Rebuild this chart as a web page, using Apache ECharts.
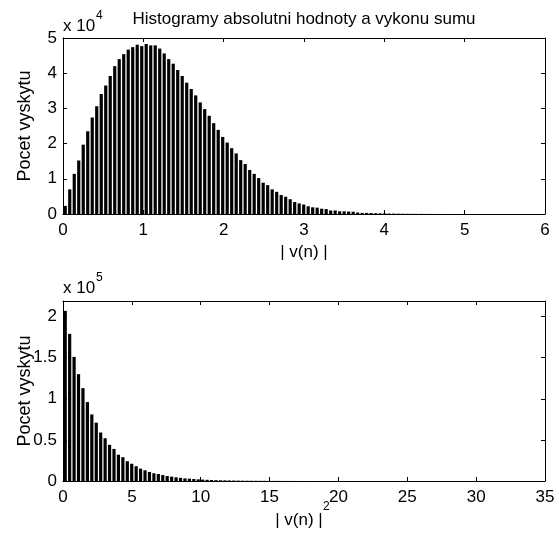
<!DOCTYPE html>
<html><head><meta charset="utf-8">
<script src="https://cdn.jsdelivr.net/npm/echarts@6/dist/echarts.min.js"></script>
<style>html,body{margin:0;padding:0;background:#fff}#c{width:559px;height:541px}</style>
</head><body><div id="c"></div>
<script>
// ---- data ----
const titleText = 'Histogramy absolutni hodnoty a vykonu sumu';
const yLabelText = 'Pocet vyskytu';
const absXLabel = '| v(n) |';
const powXLabel = '| v(n) |';
const absBinWidth = 0.056;
const absCounts = [2300,7000,11400,15200,19700,23500,27400,30600,34100,36500,
  39200,42000,44000,45400,46700,47400,48100,47700,48300,47900,
  47900,47000,45600,44000,42700,40900,39200,37300,35500,33700,
  31700,29800,27900,25800,23900,21900,20300,18700,17200,15300,
  14200,12500,11400,10200,8900,8200,7000,6300,5400,4900,
  4200,3400,3000,2700,2200,1900,1800,1500,1400,1000,
  1000,770,770,700,650,400,330,300,260,220,
  190,150,130,110,90,80,60,50,40,35,
  30,22,18,15,12,9,7,6,5,4,
  3,2,2,1,0,1,1,0,1,1];
const powBinWidth = 0.322;
const powCounts = [207000,179000,151000,130000,113000,96000,81000,71000,59000,52000,
  44000,39000,32000,29000,24000,21000,18000,15000,13000,11000,
  9400,8500,7200,6100,5300,4500,3800,3200,2800,2400,
  2000,1700,1450,1250,1050,900,760,650,550,470,
  400,340,290,250,210,180,150,130,110,95,
  80,68,58,49,42,36,30,26,22,19,
  16,14,12,10,8,7,6,5,4,4,
  3,3,2,2,2,1,1,1,1,0,
  1,0,1,0,0,1,0,0,1,0,
  0,0,1,0,0,0,1,0,0,1];
const absXRange = [0, 6, 1];
const absYRange = [0, 50000, 10000];
const powXRange = [0, 35, 5];
const powYRange = [0, 219000, 50000];
const absYScale = 1e4, powYScale = 1e5;
const absExp = '4', powExp = '5';

// ---- chart ----
const FONT = 'Liberation Sans, Arial, Helvetica, sans-serif';
const FS = 17;
const chart = echarts.init(document.getElementById('c'), null, {renderer: 'canvas'});
const absData = absCounts.map((c, i) => [(i + 0.5) * absBinWidth, c]);
const powData = powCounts.map((c, i) => [(i + 0.5) * powBinWidth, c]);

function xAx(grid, r, pos, showLabel) {
  return {type: 'value', gridIndex: grid, position: pos, min: r[0], max: r[1], interval: r[2],
    axisLine: {show: true, onZero: false, lineStyle: {color: '#000', width: 1}},
    axisTick: {show: true, inside: true, length: 4, lineStyle: {color: '#000'}},
    axisLabel: {show: showLabel, color: '#000', fontFamily: FONT, fontSize: FS, margin: 8},
    splitLine: {show: false}};
}
function yAx(grid, r, pos, showLabel, scale) {
  return {type: 'value', gridIndex: grid, position: pos, min: r[0], max: r[1], interval: r[2],
    axisLine: {show: true, onZero: false, lineStyle: {color: '#000', width: 1}},
    axisTick: {show: true, inside: true, length: 4, lineStyle: {color: '#000'}},
    axisLabel: {show: showLabel, color: '#000', fontFamily: FONT, fontSize: FS, margin: 6,
      showMaxLabel: r[1] % r[2] === 0,
      formatter: v => String(+(v / scale).toFixed(2))},
    splitLine: {show: false}};
}
function txt(text, x, y, size, align, rot) {
  return {type: 'text', x: x, y: y, rotation: rot || 0, silent: true,
    style: {text: text, fill: '#000', font: size + 'px ' + FONT, textAlign: align || 'center', textVerticalAlign: 'middle'}};
}

chart.setOption({
  animation: false,
  backgroundColor: '#fff',
  grid: [
    {left: 63, top: 38, width: 482, height: 176},
    {left: 63, top: 301, width: 482, height: 180}
  ],
  xAxis: [
    xAx(0, absXRange, 'bottom', true), xAx(0, absXRange, 'top', false),
    xAx(1, powXRange, 'bottom', true), xAx(1, powXRange, 'top', false)
  ],
  yAxis: [
    yAx(0, absYRange, 'left', true, absYScale), yAx(0, absYRange, 'right', false, absYScale),
    yAx(1, powYRange, 'left', true, powYScale), yAx(1, powYRange, 'right', false, powYScale)
  ],
  series: [
    {type: 'bar', xAxisIndex: 0, yAxisIndex: 0, data: absData, barWidth: 3.2,
      itemStyle: {color: '#000'}, silent: true},
    {type: 'bar', xAxisIndex: 2, yAxisIndex: 2, data: powData, barWidth: 3.2,
      itemStyle: {color: '#000'}, silent: true}
  ],
  graphic: [
    txt(titleText, 304, 19, FS),
    txt('x 10', 63, 26, FS, 'left'),
    txt(absExp, 96, 16, 12, 'left'),
    txt('x 10', 63, 288, FS, 'left'),
    txt(powExp, 96, 278, 12, 'left'),
    txt(yLabelText, 25, 126, 18, 'center', Math.PI / 2),
    txt(yLabelText, 25, 391, 18, 'center', Math.PI / 2),
    txt(absXLabel, 304, 252, FS),
    txt(powXLabel, 299, 520, FS),
    txt('2', 323, 507, 12, 'left')
  ]
});
</script></body></html>
